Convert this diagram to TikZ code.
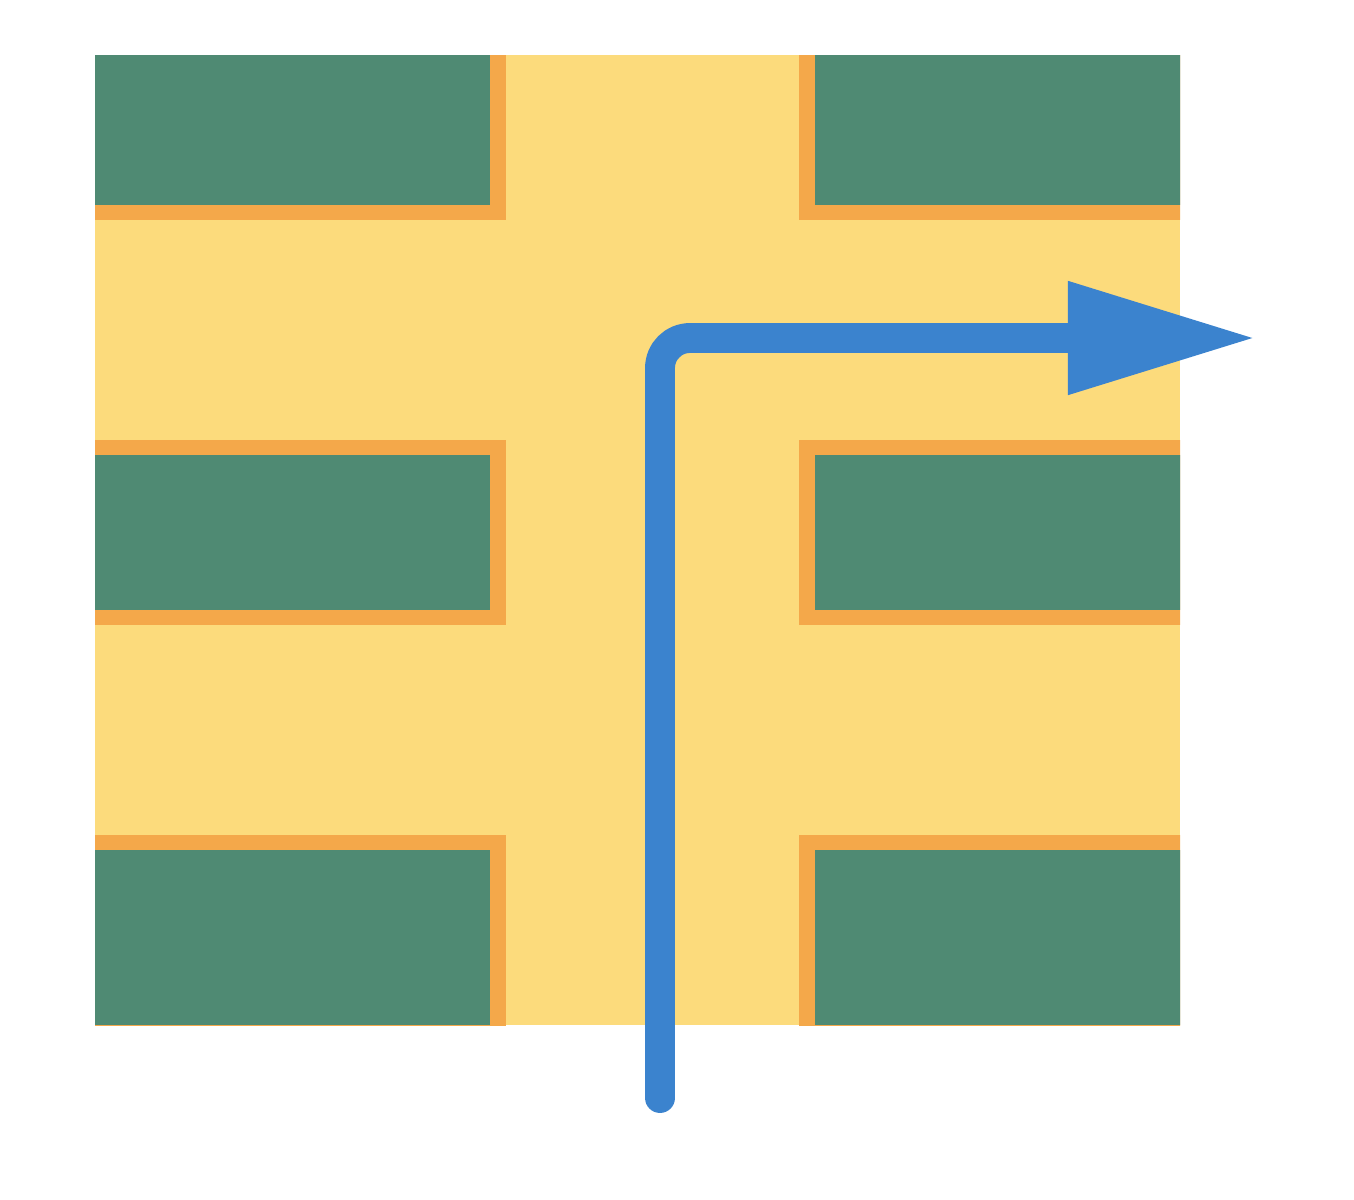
\documentclass[tikz,border=0pt]{standalone}
\usetikzlibrary{arrows.meta}
\definecolor{padyellow}{HTML}{FCDB7C}
\definecolor{padgreen}{HTML}{4F8A73}
\definecolor{padorange}{HTML}{F4A84A}
\definecolor{flowblue}{HTML}{3B83CE}
\tikzset{
  greenblock/.style={fill=padgreen},
  rim/.style={fill=padorange},
  flow/.style={draw=flowblue, line width=8.5pt, line cap=round, rounded corners=0.3cm,
    -{Triangle[length=1.9cm, width=1.05cm]}}
}
\begin{document}
\begin{tikzpicture}[x=0.01cm,y=-0.01cm]
\useasboundingbox (0,0) rectangle (1354,1200);
\fill[white] (0,0) rectangle (1354,1200);
\fill[padyellow] (95,55) rectangle (1180,1025);
\begin{scope}
\clip (95,55) rectangle (1180,1025);
\foreach \xa/\xb in {80/490, 815/1195}{
  \foreach \ya/\yb in {55/205, 455/610, 850/1025}{
    \fill[rim] (\xa-16,\ya-15) rectangle (\xb+16,\yb+15);
    \fill[greenblock] (\xa,\ya) rectangle (\xb,\yb);
  }
}
\end{scope}
\coordinate (start) at (660,1098);
\coordinate (bend) at (660,338);
\coordinate (tip) at (1258,338);
\draw[flow] (start) -- (bend) -- (tip);
\end{tikzpicture}
\end{document}
